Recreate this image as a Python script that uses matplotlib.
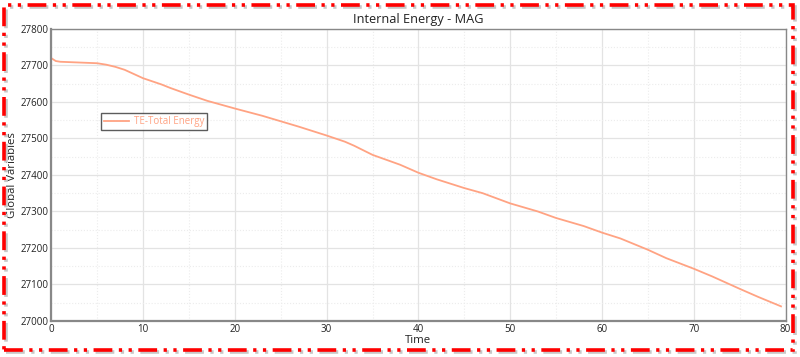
import matplotlib.pyplot as plt
from matplotlib.patches import Rectangle
from matplotlib.ticker import MultipleLocator

plt.rcParams['font.family'] = ['Open Sans', 'DejaVu Sans']

# Internal energy curve
time = [0, 0.5, 1, 3, 5, 6, 7, 8, 10, 12, 13, 15, 17, 20, 23, 25, 27, 30, 32, 33,
        35, 38, 40, 42, 45, 47, 50, 53, 55, 58, 60, 62, 65, 67, 70, 72, 75, 77, 79.5]
energy = [27720, 27712, 27710, 27708, 27706, 27702, 27696, 27688, 27665, 27648, 27638,
          27620, 27603, 27582, 27562, 27547, 27532, 27508, 27491, 27480, 27455, 27428,
          27406, 27388, 27364, 27350, 27322, 27300, 27282, 27260, 27242, 27226, 27195,
          27172, 27143, 27122, 27088, 27066, 27040]

line_color = '#ffa383'

fig = plt.figure(figsize=(8, 3.57), dpi=100)
ax = fig.add_axes([0.064, 0.101, 0.918, 0.818])

ax.plot(time, energy, color=line_color, linewidth=1.3, label='TE-Total Energy')

ax.set_xlim(0, 80)
ax.set_ylim(27000, 27800)
ax.xaxis.set_major_locator(MultipleLocator(10))
ax.xaxis.set_minor_locator(MultipleLocator(5))
ax.yaxis.set_major_locator(MultipleLocator(100))
ax.yaxis.set_minor_locator(MultipleLocator(50))
ax.grid(which='major', color='#e3e3e3', linewidth=0.9)
ax.grid(which='minor', color='#ececec', linewidth=0.8, linestyle=':')
ax.tick_params(which='both', length=0, labelsize=7, pad=2, colors='#222222')

for side in ['left', 'bottom']:
    ax.spines[side].set_color('#888888')
    ax.spines[side].set_linewidth(1.6)
for side in ['top', 'right']:
    ax.spines[side].set_color('#888888')
    ax.spines[side].set_linewidth(1.0)

ax.set_title('Internal Energy - MAG', fontsize=9.2, pad=4, color='#222222')
ax.set_xlabel('Time', fontsize=8.2, labelpad=0, color='#222222')
ax.set_ylabel('Global Variables', fontsize=8.2, color='#222222')
ax.yaxis.set_label_coords(-0.045, 0.5)

leg = ax.legend(loc='upper left', bbox_to_anchor=(0.068, 0.712), fontsize=7,
                frameon=True, fancybox=False, handlelength=2.6, borderpad=0.3,
                handletextpad=0.5, borderaxespad=0)
leg.get_frame().set_edgecolor('#333333')
leg.get_frame().set_linewidth(1.0)
for txt in leg.get_texts():
    txt.set_color(line_color)

# dash-dot border with a soft shadow
border_style = (0, (5.2, 1.8, 0.9, 1.8, 0.9, 1.8))
fig.patches.append(Rectangle((0.008, 0.013), 0.986, 0.966, transform=fig.transFigure,
                             fill=False, edgecolor='#c8c8c8', linewidth=2.6,
                             linestyle=border_style))
fig.patches.append(Rectangle((0.005, 0.019), 0.986, 0.966, transform=fig.transFigure,
                             fill=False, edgecolor='red', linewidth=2.6,
                             linestyle=border_style))

fig.savefig('out.png', dpi=100)
